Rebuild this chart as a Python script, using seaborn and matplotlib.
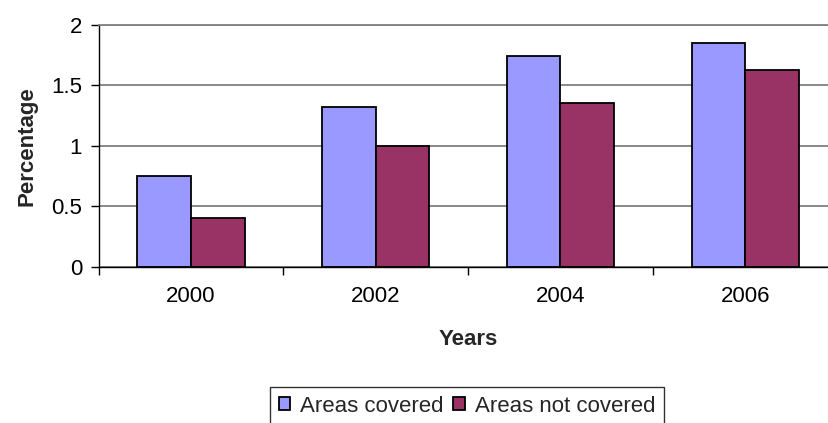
import matplotlib
matplotlib.use("Agg")
import matplotlib.pyplot as plt
import seaborn as sns
import pandas as pd
from matplotlib.ticker import FixedLocator

years = ["2000", "2002", "2004", "2006"]
series_names = ["Areas covered", "Areas not covered"]
covered = [0.75, 1.32, 1.745, 1.85]
not_covered = [0.40, 1.00, 1.355, 1.625]
yticks = [0, 0.5, 1, 1.5, 2]
colors = ["#9999FF", "#993366"]

df = pd.DataFrame({
    "Year": years * 2,
    "Series": [series_names[0]] * len(years) + [series_names[1]] * len(years),
    "Value": covered + not_covered,
})

sns.set_theme(style="white")
plt.rcParams["font.family"] = ["Liberation Sans", "DejaVu Sans"]

FS = 16
W, H = 829, 423
fig = plt.figure(figsize=(W / 100, H / 100), dpi=100)
left, right, top, bottom = 98.7, 837.5, 25.0, 266.7
ax = fig.add_axes([left / W, 1 - bottom / H, (right - left) / W, (bottom - top) / H])

sns.barplot(data=df, x="Year", y="Value", hue="Series", palette=colors,
            width=0.58, edgecolor="black", linewidth=1.3, ax=ax, legend=True,
            errorbar=None, saturation=1)

ax.set_xlim(-0.5, len(years) - 0.5)
ax.set_ylim(0, 2)
ax.set_yticks(yticks)
ax.set_yticklabels([f"{v:g}" for v in yticks])
ax.yaxis.grid(True, color="#808080", linewidth=1.3)
ax.set_axisbelow(True)

ax.spines["right"].set_visible(False)
ax.spines["top"].set_color("#808080")
ax.spines["top"].set_linewidth(1.3)
ax.spines["left"].set_color("black")
ax.spines["left"].set_linewidth(1.0)
ax.spines["bottom"].set_color("black")
ax.spines["bottom"].set_linewidth(1.0)

ax.tick_params(axis="y", which="major", direction="out", length=6, width=1,
               color="black", left=True, pad=6, labelsize=FS, labelcolor="black")
ax.tick_params(axis="x", which="major", length=0, pad=14, labelsize=FS, labelcolor="black")
ax.xaxis.set_minor_locator(FixedLocator([i + 0.5 for i in range(-1, len(years))]))
ax.tick_params(axis="x", which="minor", direction="out", length=6, width=1,
               color="black", bottom=True)

ax.set_xlabel("Years", fontsize=FS, fontweight="bold", labelpad=16)
ax.set_ylabel("Percentage", fontsize=FS, fontweight="bold", labelpad=10)

handles, labels = ax.get_legend_handles_labels()
ax.get_legend().remove()
leg = fig.legend(handles, labels, loc="upper center",
                 bbox_to_anchor=(467 / W, 1 - 386.7 / H), bbox_transform=fig.transFigure,
                 ncol=2, frameon=True, fancybox=False, fontsize=FS,
                 handlelength=0.5, handleheight=0.5, handletextpad=0.45,
                 columnspacing=0.45, borderpad=0.4, borderaxespad=0)
leg.get_frame().set_edgecolor("black")
leg.get_frame().set_linewidth(1.0)

fig.savefig("out.png", dpi=100)
